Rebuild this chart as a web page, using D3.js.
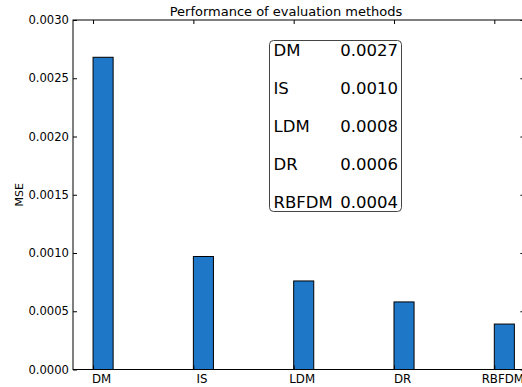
<!DOCTYPE html>
<html>
<head>
<meta charset="utf-8">
<script src="https://cdn.jsdelivr.net/npm/d3@7"></script>
<style>
  html, body { margin: 0; padding: 0; background: #fff; overflow: hidden; }
  svg { display: block; font-family: "DejaVu Sans", sans-serif; }
</style>
</head>
<body>
<div id="chart"></div>
<script>
// data
const methods = ["DM", "IS", "LDM", "DR", "RBFDM"];
const mse = [0.00268, 0.00097, 0.00076, 0.00058, 0.00039];
const boxValues = ["0.0027", "0.0010", "0.0008", "0.0006", "0.0004"];
const yTicks = [0, 0.0005, 0.0010, 0.0015, 0.0020, 0.0025, 0.0030];

const W = 522, H = 387;
const axL = 73, axR = 524.4, axT = 20, axB = 369.5;
const barW = 0.2;

const svg = d3.select("#chart").append("svg")
    .attr("width", W).attr("height", H);

const x = d3.scaleLinear().domain([-0.2, 4.3]).range([axL, axR]);
const y = d3.scaleLinear().domain([0, 0.003]).range([axB, axT]);

// bars
svg.selectAll(".bar")
    .data(mse).enter().append("rect")
    .attr("class", "bar")
    .attr("x", (d, i) => x(i))
    .attr("y", d => y(d))
    .attr("width", (d, i) => x(i + barW) - x(i))
    .attr("height", d => y(0) - y(d))
    .attr("fill", "#1f77c8")
    .attr("stroke", "#000")
    .attr("stroke-width", 1);

// axes, ticks inward like old matplotlib
const styleAxis = g => {
    g.select(".domain").remove();
    g.selectAll(".tick line").attr("stroke", "#000");
    g.selectAll(".tick text").attr("fill", "#000");
};

svg.append("g")
    .attr("transform", `translate(${axL},0)`)
    .call(d3.axisLeft(y).tickValues(yTicks).tickSize(-4).tickPadding(4).tickFormat(d3.format(".4f")))
    .call(styleAxis)
    .call(g => g.selectAll("text").style("font-size", "11.6px").style("font-family", "DejaVu Sans"));

svg.append("g")
    .attr("transform", `translate(${axR},0)`)
    .call(d3.axisRight(y).tickValues(yTicks).tickSize(-4).tickFormat(""))
    .call(styleAxis);

const idx = d3.range(methods.length);
svg.append("g")
    .attr("transform", `translate(0,${axT})`)
    .call(d3.axisTop(x).tickValues(idx).tickSize(-4).tickFormat(""))
    .call(styleAxis);

svg.append("g")
    .attr("transform", `translate(0,${axB})`)
    .call(d3.axisBottom(x).tickValues(idx).tickSize(-4).tickFormat(""))
    .call(styleAxis);

// x labels sit under the bar centres
svg.selectAll(".xlab")
    .data(methods).enter().append("text")
    .attr("class", "xlab")
    .attr("x", (d, i) => x(i + barW / 2) - 1.5)
    .attr("y", 382.5)
    .attr("text-anchor", "middle")
    .style("font-size", "11.8px")
    .text(d => d);

// spines
svg.append("rect")
    .attr("x", axL).attr("y", axT)
    .attr("width", axR - axL).attr("height", axB - axT)
    .attr("fill", "none").attr("stroke", "#000").attr("stroke-width", 1);

// title and y label
svg.append("text")
    .attr("x", 286).attr("y", 15.5)
    .attr("text-anchor", "middle")
    .style("font-size", "13px")
    .text("Performance of evaluation methods");

svg.append("text")
    .attr("transform", `translate(22.5,${(axT + axB) / 2}) rotate(-90)`)
    .attr("text-anchor", "middle")
    .style("font-size", "11px")
    .text("MSE");

// annotation box
const box = svg.append("g");
box.append("rect")
    .attr("x", 269.5).attr("y", 40.5)
    .attr("width", 132).attr("height", 171)
    .attr("rx", 4).attr("ry", 4)
    .attr("fill", "#fff").attr("stroke", "#444").attr("stroke-width", 1);

const rowY = d3.scalePoint().domain(methods).range([55.5, 207.5]);
box.selectAll(".blab")
    .data(methods).enter().append("text")
    .attr("x", 273.5).attr("y", d => rowY(d))
    .style("font-size", "16.5px")
    .text(d => d);
box.selectAll(".bval")
    .data(boxValues).enter().append("text")
    .attr("x", 398).attr("y", (d, i) => rowY(methods[i]))
    .attr("text-anchor", "end")
    .style("font-size", "16.5px")
    .text(d => d);
</script>
</body>
</html>
